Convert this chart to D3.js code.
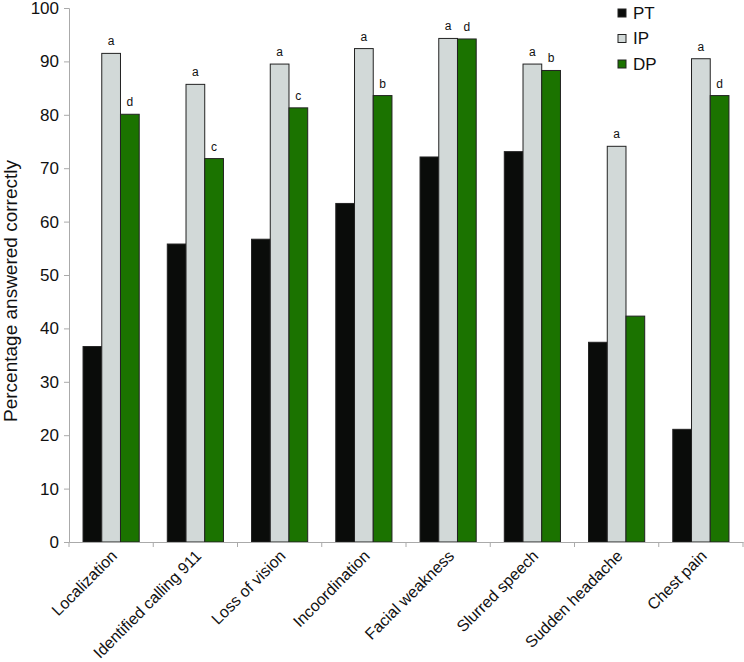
<!DOCTYPE html>
<html><head><meta charset="utf-8">
<script src="https://cdn.jsdelivr.net/npm/d3@7"></script>
<style>body{margin:0;background:#fff}svg{display:block}text{font-family:"Liberation Sans",Arial,sans-serif;fill:#111}</style>
</head><body><svg id="c" width="744" height="662"></svg>
<script>
const categories = ["Localization","Identified calling 911","Loss of vision","Incoordination","Facial weakness","Slurred speech","Sudden headache","Chest pain"];
const seriesNames = ["PT","IP","DP"];
const PT = [36.6, 55.8, 56.7, 63.4, 72.1, 73.1, 37.4, 21.1];
const IP = [91.5, 85.7, 89.5, 92.4, 94.3, 89.5, 74.1, 90.5];
const DP = [80.1, 71.8, 81.3, 83.6, 94.2, 88.3, 42.3, 83.6];
const ipLetters = ["a","a","a","a","a","a","a","a"];
const dpLetters = ["d","c","c","b","d","b","","d"];
const yTicks = [0,10,20,30,40,50,60,70,80,90,100];
const colors = ["#0a0c0a","#d2d9d8","#1b7300"];

const svg = d3.select("#c");
const x0 = 69, x1 = 743, yTop = 8, yBot = 542;
const x = d3.scaleBand().domain(categories).range([x0, x1]).paddingInner(0).paddingOuter(0);
const y = d3.scaleLinear().domain([0,100]).range([yBot, yTop]);
const inner = d3.scaleBand().domain(seriesNames).range([0, x.bandwidth()]).paddingInner(0).paddingOuter(0.75);
const vals = [PT, IP, DP];

// y axis
const yAxis = d3.axisLeft(y).tickValues(yTicks).tickSize(5).tickPadding(5);
const gy = svg.append("g").attr("transform", `translate(${x0},0)`).call(yAxis);
gy.select(".domain").attr("stroke","#aaa");
gy.selectAll(".tick line").attr("stroke","#aaa");
gy.selectAll(".tick text").style("font-size","17px").attr("fill","#111");

// bars
seriesNames.forEach((s, si) => {
  svg.append("g").selectAll("rect").data(categories).join("rect")
    .attr("x", (c) => x(c) + inner(s))
    .attr("y", (c, i) => y(vals[si][i]))
    .attr("width", inner.bandwidth())
    .attr("height", (c, i) => y(0) - y(vals[si][i]))
    .attr("fill", colors[si])
    .attr("stroke", "#222").attr("stroke-width", 1);
});

// letters
svg.append("g").selectAll("text").data(categories).join("text")
  .attr("x", c => x(c) + inner("IP") + inner.bandwidth()/2)
  .attr("y", (c,i) => y(IP[i]) - 8)
  .attr("text-anchor","middle").style("font-size","12px")
  .text((c,i) => ipLetters[i]);
svg.append("g").selectAll("text").data(categories).join("text")
  .attr("x", c => x(c) + inner("DP") + inner.bandwidth()/2)
  .attr("y", (c,i) => y(DP[i]) - 8)
  .attr("text-anchor","middle").style("font-size","12px")
  .text((c,i) => dpLetters[i]);

// x axis
const xAxis = d3.axisBottom(x).tickSize(0).tickFormat("");
const gx = svg.append("g").attr("transform", `translate(0,${yBot})`).call(xAxis);
gx.select(".domain").attr("stroke","#aaa");
gx.selectAll(".tick").remove();
const bounds = categories.map(c => x(c)).concat([x1]);
gx.selectAll("line.b").data(bounds).join("line").attr("class","b")
  .attr("x1", d => d).attr("x2", d => d).attr("y1", 0).attr("y2", 5).attr("stroke","#aaa");

svg.append("g").selectAll("text").data(categories).join("text")
  .attr("transform", c => `translate(${x(c) + x.bandwidth()/2 + 7},${yBot + 15}) rotate(-45)`)
  .attr("text-anchor","end").style("font-size","16px")
  .text(c => c);

// y label
svg.append("text").attr("transform", `translate(10,291) rotate(-90)`)
  .attr("text-anchor","middle").attr("dy","0.35em").style("font-size","19px")
  .text("Percentage answered correctly");

// legend
const lg = svg.append("g");
seriesNames.forEach((s, i) => {
  lg.append("rect").attr("x", 618).attr("y", 9 + i*25.5).attr("width", 8).attr("height", 8)
    .attr("fill", colors[i]).attr("stroke","#222").attr("stroke-width",1);
  lg.append("text").attr("x", 633).attr("y", 13 + i*25.5).attr("dy","0.35em").style("font-size","17px").text(s);
});
</script></body></html>
